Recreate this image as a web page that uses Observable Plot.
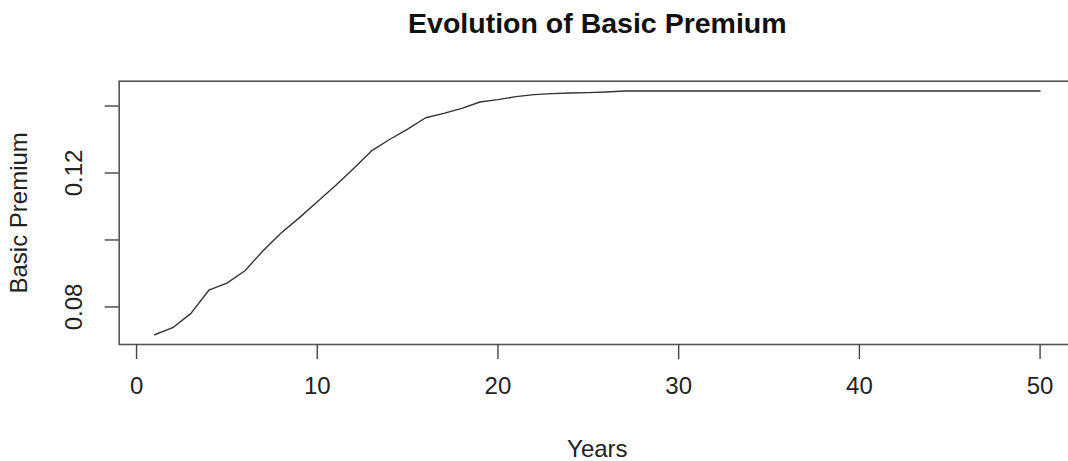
<!DOCTYPE html>
<html>
<head>
<meta charset="utf-8">
<script src="https://cdn.jsdelivr.net/npm/d3@7"></script>
<script src="https://cdn.jsdelivr.net/npm/@observablehq/plot@0.6"></script>
<style>
  html, body { margin: 0; padding: 0; background: #fff; overflow: hidden; }
  #chart { width: 1068px; height: 461px; overflow: hidden; }
  #chart svg { font-family: "Liberation Sans", Arial, sans-serif; max-width: none; }
</style>
</head>
<body>
<div id="chart"></div>
<script>
// Basic premium per policy year
const years = d3.range(1, 51);
const premium = [
  0.0717, 0.0738, 0.0780, 0.0850, 0.0871, 0.0908, 0.0968, 0.1021, 0.1066, 0.1114,
  0.1162, 0.1213, 0.1266, 0.1300, 0.1331, 0.1365, 0.1378, 0.1393, 0.1412, 0.1419,
  0.1428, 0.1434, 0.1437, 0.1439, 0.1440, 0.1442, 0.1445, 0.1445, 0.1445, 0.1445,
  0.1445, 0.1445, 0.1445, 0.1445, 0.1445, 0.1445, 0.1445, 0.1445, 0.1445, 0.1445,
  0.1445, 0.1445, 0.1445, 0.1445, 0.1445, 0.1445, 0.1445, 0.1445, 0.1445, 0.1445
];
const xTicks = [0, 10, 20, 30, 40, 50];
const yTicks = [0.08, 0.10, 0.12, 0.14];
const yLabelled = [0.08, 0.12];

const titleText = "Evolution of Basic Premium";
const xLabel = "Years";
const yLabel = "Basic Premium";

const rows = years.map((y, i) => ({year: y, value: premium[i]}));

// axis ranges padded by 4% of the data span on each side
const pad = (lo, hi) => [lo - 0.04 * (hi - lo), hi + 0.04 * (hi - lo)];
const xDomain = pad(d3.min(years), d3.max(years));
const yDomain = pad(d3.min(premium), d3.max(premium));

const ink = "#222";

const chart = Plot.plot({
  width: 1076,
  height: 461,
  marginLeft: 118.7,
  marginRight: 1,
  marginTop: 80.7,
  marginBottom: 117,
  style: {fontSize: "24px", color: ink, background: "#fff"},
  x: {domain: xDomain, ticks: xTicks},
  y: {domain: yDomain, ticks: yTicks},
  marks: [
    Plot.frame({stroke: "#555", strokeWidth: 1.6}),
    Plot.axisX(xTicks, {
      tickSize: 15, tickPadding: 17, stroke: "#444", strokeWidth: 1.4,
      fontSize: 24, fill: ink, label: null
    }),
    Plot.axisY(yTicks, {
      tickSize: 14, tickPadding: 23, stroke: "#444", strokeWidth: 1.4,
      fontSize: 24, fill: ink, label: null, tickRotate: -90,
      tickFormat: d => yLabelled.includes(d) ? d.toFixed(2) : ""
    }),
    Plot.line(rows, {x: "year", y: "value", stroke: "#333", strokeWidth: 1.4}),
    Plot.text([titleText], {
      frameAnchor: "top", lineAnchor: "middle", textAnchor: "middle", dy: -57.5,
      fontSize: 28.5, fontWeight: "bold", fill: "#111"
    }),
    Plot.text([xLabel], {
      frameAnchor: "bottom", lineAnchor: "middle", textAnchor: "middle", dy: 105,
      fontSize: 24, fill: ink
    }),
    Plot.text([yLabel], {
      frameAnchor: "left", lineAnchor: "middle", textAnchor: "middle", dx: -100,
      rotate: -90, fontSize: 24, fill: ink
    })
  ]
});

document.getElementById("chart").appendChild(chart);
</script>
</body>
</html>
